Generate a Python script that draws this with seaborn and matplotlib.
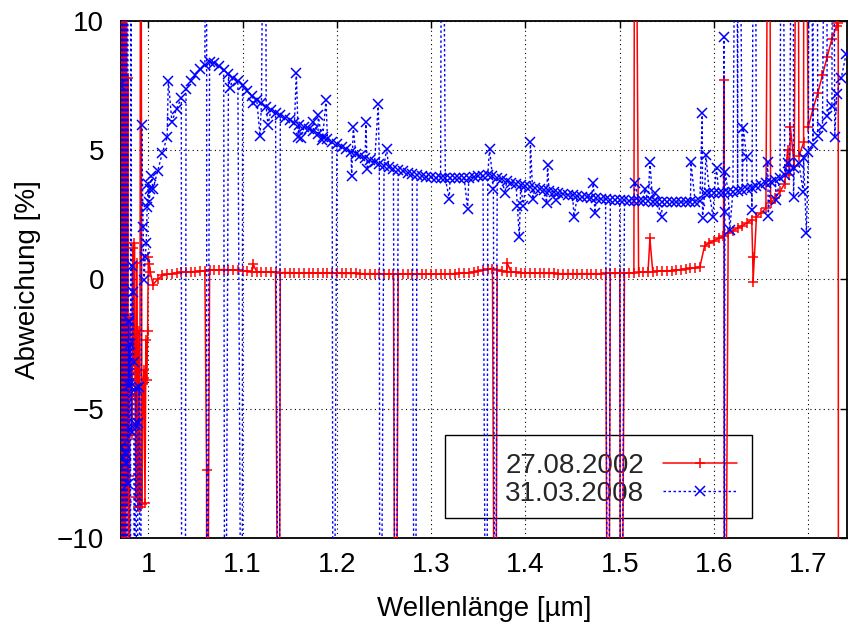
import numpy as np
import pandas as pd
import matplotlib
matplotlib.use("Agg")
import matplotlib.pyplot as plt
from matplotlib.patches import Rectangle
import seaborn as sns

# ---------------------------------------------------------------------------
# Deviation spectra (%) versus wavelength (µm)
# ---------------------------------------------------------------------------
STEP = 0.005

# 27.08.2002 – smooth part, sampled from 1.005 µm to 1.730 µm
red_start, red_stop = 1.005, 1.730
red_base = [
    -0.20, 0.00, 0.15, 0.20, 0.22, 0.25, 0.27, 0.28, 0.30, 0.30,
    0.32, 0.33, 0.35, 0.36, 0.37, 0.38, 0.37, 0.36, 0.35, 0.33,
    0.32, 0.30, 0.29, 0.28, 0.28, 0.27, 0.27, 0.26, 0.26, 0.26,
    0.25, 0.25, 0.25, 0.25, 0.25, 0.24, 0.24, 0.24, 0.24, 0.24,
    0.23, 0.23, 0.23, 0.23, 0.22, 0.22, 0.22, 0.22, 0.22, 0.21,
    0.21, 0.21, 0.21, 0.20, 0.20, 0.20, 0.20, 0.20, 0.20, 0.20,
    0.20, 0.21, 0.21, 0.22, 0.22, 0.23, 0.24, 0.26, 0.28, 0.32,
    0.36, 0.40, 0.40, 0.36, 0.32, 0.30, 0.28, 0.27, 0.26, 0.25,
    0.25, 0.24, 0.24, 0.23, 0.23, 0.23, 0.22, 0.22, 0.22, 0.22,
    0.22, 0.22, 0.22, 0.22, 0.22, 0.22, 0.23, 0.23, 0.23, 0.24,
    0.24, 0.25, 0.26, 0.27, 0.28, 0.29, 0.30, 0.31, 0.32, 0.33,
    0.34, 0.36, 0.38, 0.40, 0.42, 0.44, 0.48, 1.30, 1.40, 1.50,
    1.58, 1.68, 1.78, 1.88, 1.98, 2.08, 2.18, 2.30, 2.42, 2.58,
    2.75, 2.95, 3.15, 3.40, 3.70, 4.05, 4.40, 4.75, 5.30, 5.90,
    6.60, 7.20, 7.90, 8.60, 9.30, 9.80,
]

# 27.08.2002 – noisy start of the band and isolated outliers (±25 = off scale)
red_extra_wl = [
    0.9700, 0.9706, 0.9712, 0.9720, 0.9728, 0.9736, 0.9745, 0.9752, 0.9760, 0.9768,
    0.9775, 0.9782, 0.9790, 0.9798, 0.9805, 0.9812, 0.9820, 0.9828, 0.9836, 0.9845,
    0.9853, 0.9860, 0.9868, 0.9876, 0.9884, 0.9892, 0.9900, 0.9910, 0.9920, 0.9933,
    0.9945, 0.9955, 0.9965, 0.9975, 0.9985, 0.9993, 1.0000, 1.0010, 1.0020,
    1.0618, 1.0620, 1.1110, 1.1386, 1.2623, 1.3680, 1.3807, 1.4878, 1.5010, 1.5160,
    1.5320, 1.6105, 1.6110, 1.6410, 1.6414, 1.6585, 1.6780, 1.6810, 1.6887, 1.6953,
    1.7317, 1.7320,
]
red_extra_dev = [
    -8.5, 25, -25, -6.0, 25, -25, 25, -7.9, -25, 25,
    -8.6, 7.8, -25, -7.6, -1.5, -4.5, -3.3, -6.0, 1.2, -3.2,
    1.39, -4.5, -8.4, 0.62, -3.6, -8.8, -2.0, -8.8, 25, -8.7,
    -4.0, -3.5, -8.66, -2.35, -3.9, -2.0, 0.87, 0.6, 0.3,
    -7.38, -25, 0.6, -25, -25, -25, 0.62, -25, -25, 25,
    1.58, 7.7, -25, 0.87, -0.09, 25, 5.0, 5.9, 25, 25,
    9.9, -25,
]

# 31.03.2008 – smooth part, sampled from 1.005 µm to 1.740 µm
blue_start, blue_stop = 1.005, 1.740
blue_base = [
    3.50, 4.20, 4.90, 5.50, 6.10, 6.60, 7.00, 7.35, 7.65, 7.90,
    8.15, 8.30, 8.40, 8.35, 8.25, 8.10, 7.95, 7.80, 7.65, 7.50,
    7.30, 7.10, 6.95, 6.80, 6.65, 6.55, 6.45, 6.35, 6.25, 6.15,
    6.05, 5.98, 5.90, 5.82, 5.72, 5.62, 5.52, 5.42, 5.32, 5.22,
    5.12, 5.02, 4.92, 4.84, 4.76, 4.68, 4.60, 4.53, 4.46, 4.40,
    4.33, 4.27, 4.22, 4.17, 4.12, 4.08, 4.04, 4.00, 3.97, 3.95,
    3.93, 3.92, 3.91, 3.90, 3.90, 3.90, 3.91, 3.93, 3.95, 3.98,
    4.00, 4.02, 3.98, 3.93, 3.87, 3.80, 3.74, 3.70, 3.66, 3.62,
    3.58, 3.54, 3.50, 3.46, 3.42, 3.38, 3.35, 3.31, 3.28, 3.25,
    3.22, 3.19, 3.17, 3.15, 3.13, 3.11, 3.10, 3.08, 3.07, 3.06,
    3.05, 3.04, 3.03, 3.02, 3.01, 3.01, 3.00, 3.00, 3.00, 2.99,
    2.99, 2.99, 2.99, 3.00, 3.00, 3.00, 3.02, 3.35, 3.33, 3.32,
    3.33, 3.34, 3.36, 3.38, 3.41, 3.45, 3.50, 3.55, 3.60, 3.66,
    3.72, 3.78, 3.84, 3.92, 4.02, 4.14, 4.30, 4.48, 4.68, 4.92,
    5.20, 5.55, 5.90, 6.30, 6.70, 7.15, 7.80, 8.70,
]

# 31.03.2008 – noisy start of the band and isolated outliers (±25 = off scale)
blue_extra_wl = [
    0.9700, 0.9704, 0.9708, 0.9714, 0.9720, 0.9726, 0.9732, 0.9738, 0.9744, 0.9750,
    0.9756, 0.9762, 0.9768, 0.9774, 0.9780, 0.9786, 0.9792, 0.9798, 0.9804, 0.9810,
    0.9816, 0.9822, 0.9830, 0.9838, 0.9846, 0.9854, 0.9862, 0.9870, 0.9880, 0.9890,
    0.9905, 0.9915, 0.9930, 0.9945, 0.9955, 0.9968, 0.9978, 0.9988, 1.0000, 1.0010,
    1.0020, 1.0030,
    1.0212, 1.0355, 1.0390, 1.0618, 1.0620, 1.0813, 1.0866, 1.0995, 1.1110, 1.1185,
    1.1240, 1.1270, 1.1386, 1.1570, 1.1590, 1.1615, 1.1752, 1.1802, 1.1840, 1.1885,
    1.1962, 1.2157, 1.2174, 1.2308, 1.2322, 1.2439, 1.2457, 1.2528, 1.2623, 1.2828,
    1.3116, 1.3192, 1.3387, 1.3589, 1.3619, 1.3660, 1.3680, 1.3783, 1.3914, 1.3935,
    1.3977, 1.4052, 1.4080, 1.4225, 1.4235, 1.4324, 1.4515, 1.4720, 1.4737, 1.4878,
    1.5010, 1.5160, 1.5267, 1.5320, 1.5370, 1.5444, 1.5755, 1.5875, 1.5878, 1.5914,
    1.5990, 1.6027, 1.6105, 1.6110, 1.6115, 1.6118, 1.6167, 1.6240, 1.6257, 1.6310,
    1.6346, 1.6402, 1.6430, 1.6570, 1.6575, 1.6660, 1.6717, 1.6787, 1.6840, 1.6843,
    1.6946, 1.6980, 1.7015, 1.7052, 1.7090, 1.7190, 1.7264, 1.7280,
]
blue_extra_dev = [
    7.5, -25, 25, -6.5, -25, 25, -6.9, -25, 25, -6.7,
    -25, 25, -7.1, -25, 25, -7.9, -1.6, -4.1, -2.5, -25,
    25, -5.9, 0.5, -0.5, -3.2, -25, -5.6, -4.2, -25, -5.57,
    -4.15, -25, 5.97, 2.03, -0.03, 0.87, 1.39, 2.8, 3.7, 3.0,
    3.5, 4.0,
    7.68, -25, -25, 25, -25, -25, 7.39, -25, 6.8, 5.54,
    25, 5.97, -25, 7.97, 5.51, 5.45, 6.1, 6.35, 5.39, 6.93,
    -25, 3.99, 5.9, 6.1, 4.25, 6.78, -25, 5.04, -25, -25,
    25, 3.1, 2.71, -25, 5.04, 3.48, -25, 3.33, 2.83, 1.65,
    2.83, 5.32, 3.09, 2.96, 4.42, 3.07, 2.42, 3.71, 2.58, -25,
    -25, 3.74, 3.48, 4.52, 3.35, 2.4, 4.52, 6.44, 2.36, 4.81,
    2.42, 4.29, 9.36, -25, 2.59, 4.16, 1.91, 25, 25, 5.86,
    4.72, 2.68, 25, 4.52, 2.45, 3.07, 25, 4.49, 25, 3.19,
    3.39, 1.78, 25, 25, 25, 25, 25, 5.51,
]

labels = ["27.08.2002", "31.03.2008"]
x_ticks = [1.0, 1.1, 1.2, 1.3, 1.4, 1.5, 1.6, 1.7]
x_tick_labels = ["1", "1.1", "1.2", "1.3", "1.4", "1.5", "1.6", "1.7"]
y_ticks = [-10, -5, 0, 5, 10]


def build_series(start, stop, base, extra_wl, extra_dev):
    n = int(round((stop - start) / STEP)) + 1
    wl = np.round(start + STEP * np.arange(n), 4)
    assert len(wl) == len(base)
    assert len(extra_wl) == len(extra_dev)
    x = np.concatenate([wl, np.asarray(extra_wl, float)])
    y = np.concatenate([np.asarray(base, float), np.asarray(extra_dev, float)])
    order = np.argsort(x, kind="stable")
    return pd.DataFrame({"wl": x[order], "dev": y[order]})


red_df = build_series(red_start, red_stop, red_base, red_extra_wl, red_extra_dev)
blue_df = build_series(blue_start, blue_stop, blue_base, blue_extra_wl, blue_extra_dev)

sns.set_theme(style="white")
plt.rcParams["font.family"] = ["Liberation Sans", "DejaVu Sans"]
plt.rcParams["font.size"] = 20

fig = plt.figure(figsize=(8.48, 6.25), dpi=100)
ax = fig.add_axes([0.1423, 0.1392, 0.8565, 0.8277])

sns.lineplot(data=red_df, x="wl", y="dev", ax=ax, sort=False, estimator=None,
             color="#ff0000", linewidth=1.1, marker="+", markersize=7,
             markeredgewidth=1.1, markeredgecolor="#ff0000", label=labels[0],
             zorder=3)
sns.lineplot(data=blue_df, x="wl", y="dev", ax=ax, sort=False, estimator=None,
             color="#0000ff", linewidth=1.0, linestyle=(0, (1.8, 1.8)),
             marker="x", markersize=6.5, markeredgewidth=1.1,
             markeredgecolor="#0000ff", label=labels[1], zorder=4)

ax.set_xlim(0.9707, 1.7410)
ax.set_ylim(-10, 10)
ax.set_xticks(x_ticks)
ax.set_xticklabels(x_tick_labels)
ax.set_yticks(y_ticks)

ax.set_axisbelow(True)
ax.grid(True, color="black", linestyle=(0, (1, 3)), linewidth=0.8)
ax.tick_params(direction="in", length=5, width=1.0, color="black",
               top=True, right=True, labelsize=20, labelcolor="black")
ax.tick_params(axis="x", pad=10)
ax.tick_params(axis="y", pad=12)
for side in ["left", "right", "top", "bottom"]:
    ax.spines[side].set_color("black")
    ax.spines[side].set_linewidth(1.3)
    ax.spines[side].set_visible(True)

ax.set_xlabel("Wellenlänge [µm]", fontsize=20, color="black", labelpad=13)
ax.set_ylabel("Abweichung [%]", fontsize=20, color="black", labelpad=11)

handles, lbls = ax.get_legend_handles_labels()
leg = ax.legend(handles, lbls, loc="center", bbox_to_anchor=(0.6888, 0.1127),
                frameon=False, markerfirst=False, handlelength=2.66,
                handletextpad=0.68, labelspacing=0.08, fontsize=20,
                borderpad=0.2, numpoints=1)
leg.set_zorder(2)
ax.add_patch(Rectangle((0.4465, 0.0387), 0.869 - 0.4465, 0.199 - 0.0387,
                       transform=ax.transAxes, fill=False, edgecolor="black",
                       linewidth=1.0, zorder=2))

fig.savefig("out.png", dpi=100, facecolor="white")
